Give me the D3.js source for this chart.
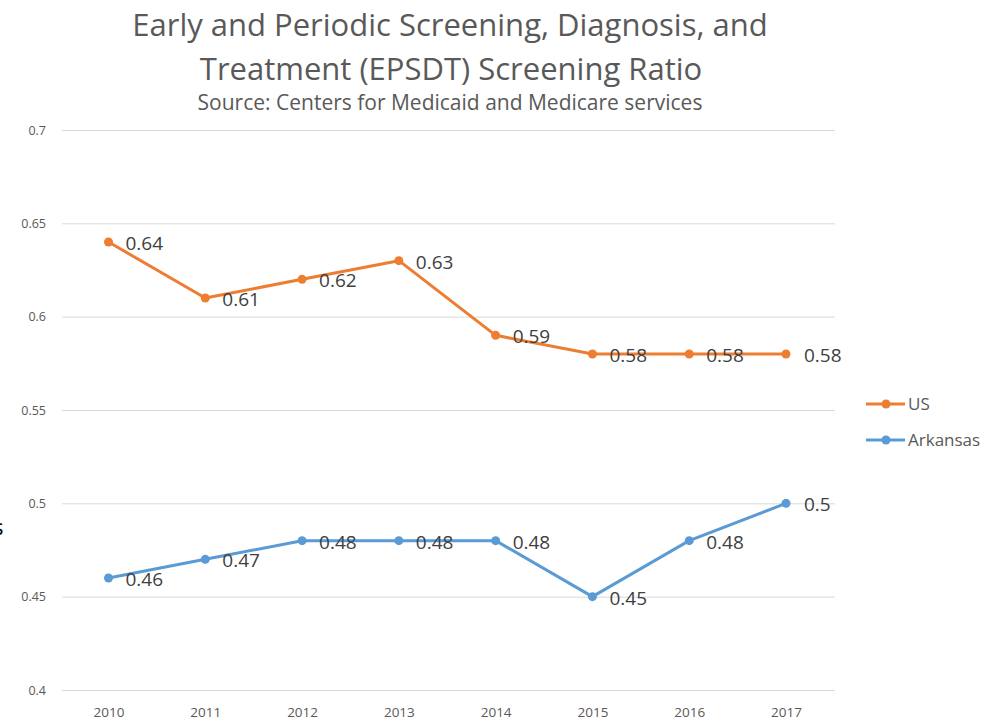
<!DOCTYPE html>
<html>
<head>
<meta charset="utf-8">
<script src="https://cdn.jsdelivr.net/npm/d3@7"></script>
<style>
  body { margin: 0; background: #fff; }
  text { font-family: "Open Sans", "Noto Sans", sans-serif; }
</style>
</head>
<body>
<div id="chart"></div>
<script>
// EPSDT screening ratio, 2010-2017
const years = ["2010", "2011", "2012", "2013", "2014", "2015", "2016", "2017"];
const usValues = [0.64, 0.61, 0.62, 0.63, 0.59, 0.58, 0.58, 0.58];
const arValues = [0.46, 0.47, 0.48, 0.48, 0.48, 0.45, 0.48, 0.5];
const yTicks = [0.4, 0.45, 0.5, 0.55, 0.6, 0.65, 0.7];
const seriesNames = ["US", "Arkansas"];

const W = 995, H = 727;
const colors = {US: "#ED7D31", Arkansas: "#5B9BD5"};

const svg = d3.select("#chart").append("svg")
    .attr("width", W).attr("height", H);

const x = d3.scalePoint().domain(years).range([108.5, 786]);
const y = d3.scaleLinear().domain([0.4, 0.7]).range([690, 130]);

// title
svg.append("text").attr("x", 450).attr("y", 36).attr("text-anchor", "middle")
  .attr("font-size", 31).attr("fill", "#595959")
  .text("Early and Periodic Screening, Diagnosis, and");
svg.append("text").attr("x", 451).attr("y", 80).attr("text-anchor", "middle")
  .attr("font-size", 31).attr("fill", "#595959")
  .text("Treatment (EPSDT) Screening Ratio");
svg.append("text").attr("x", 450).attr("y", 110).attr("text-anchor", "middle")
  .attr("font-size", 21).attr("fill", "#595959")
  .text("Source: Centers for Medicaid and Medicare services");

// stray clipped letter at the left edge
svg.append("text").attr("x", -7).attr("y", 535)
  .attr("font-size", 22).attr("fill", "#000").text("s");

// gridlines + y labels
const yAxis = svg.append("g").attr("transform", "translate(62,0)")
  .call(d3.axisLeft(y).tickValues(yTicks).tickSize(-773).tickFormat(d3.format("")));
yAxis.select(".domain").remove();
yAxis.selectAll(".tick line").attr("stroke", "#d9d9d9").attr("stroke-width", 1);
yAxis.selectAll(".tick text").attr("x", -16).attr("dy", "0.32em")
  .attr("font-size", 12.5).attr("fill", "#595959")
  .style("font-family", "'Open Sans', sans-serif");

// x labels
const xAxis = svg.append("g").attr("transform", "translate(0,690)")
  .call(d3.axisBottom(x).tickSize(0));
xAxis.select(".domain").remove();
xAxis.selectAll(".tick text").attr("y", 17).attr("dy", "0.71em")
  .attr("font-size", 13.5).attr("fill", "#595959")
  .style("font-family", "'Open Sans', sans-serif");

const series = [
  {name: "US", values: usValues},
  {name: "Arkansas", values: arValues}
];

const line = d3.line().x((d, i) => x(years[i])).y(d => y(d));

series.forEach(s => {
  svg.append("path").datum(s.values)
    .attr("fill", "none").attr("stroke", colors[s.name])
    .attr("stroke-width", 3).attr("stroke-linejoin", "round")
    .attr("d", line);
  svg.selectAll(null).data(s.values).enter().append("circle")
    .attr("cx", (d, i) => x(years[i])).attr("cy", d => y(d))
    .attr("r", 4.5).attr("fill", colors[s.name]);
  svg.selectAll(null).data(s.values).enter().append("text")
    .attr("x", (d, i) => x(years[i]) + (i === years.length - 1 ? 18 : 17))
    .attr("y", d => y(d) + 8)
    .attr("font-size", 19).attr("fill", "#404040")
    .text(d => d);
});

// legend
seriesNames.forEach((name, i) => {
  const ly = 404 + i * 36;
  const g = svg.append("g");
  g.append("line").attr("x1", 866).attr("x2", 905).attr("y1", ly).attr("y2", ly)
    .attr("stroke", colors[name]).attr("stroke-width", 3);
  g.append("circle").attr("cx", 886).attr("cy", ly).attr("r", 4.5).attr("fill", colors[name]);
  g.append("text").attr("x", 908).attr("y", ly + 6)
    .attr("font-size", 17).attr("fill", "#595959").text(name);
});
</script>
</body>
</html>
